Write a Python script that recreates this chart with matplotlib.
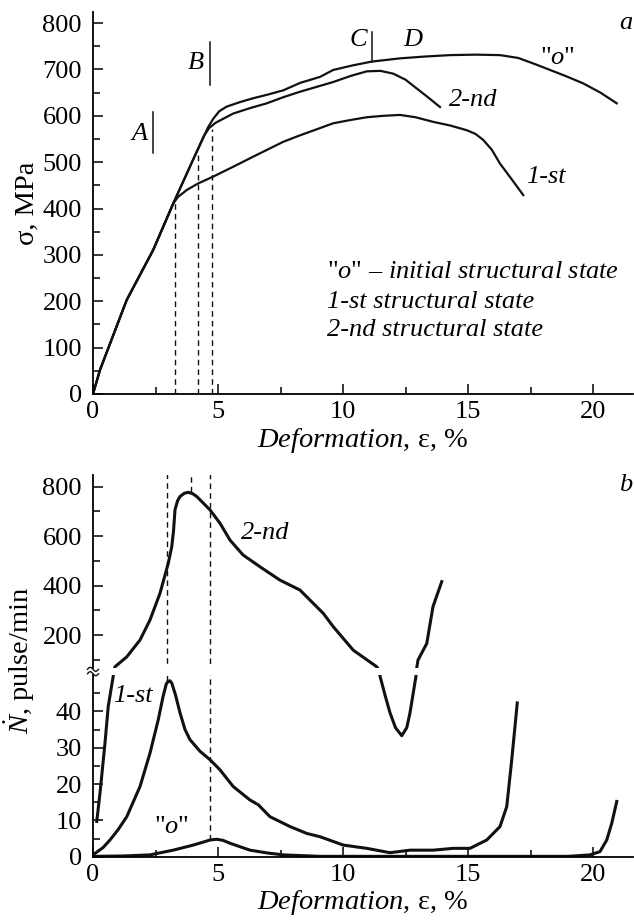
import numpy as np
import matplotlib
matplotlib.use('Agg')
import matplotlib.pyplot as plt
from matplotlib.lines import Line2D

plt.rcParams['font.family'] = ['Liberation Serif', 'DejaVu Serif']
plt.rcParams['mathtext.fontset'] = 'custom'
plt.rcParams['mathtext.rm'] = 'Liberation Serif'
plt.rcParams['mathtext.it'] = 'Liberation Serif:italic'
plt.rcParams['font.size'] = 19

# ---- panel a : stress-strain ----
eps_o = [0, 0.28, 1.35, 2.41, 3.21, 4.0, 4.6, 4.8, 5.05, 5.35, 5.9, 6.41, 7.0, 7.61, 8.28, 9.08,
         9.61, 10.4, 11.15, 12.28, 13.3, 14.28, 15.3, 16.28, 17.0, 17.61, 18.28, 18.9, 19.61,
         20.3, 20.95]
sig_o = [0, 52, 203, 311, 411, 505, 575, 593, 610, 620, 630, 638, 646, 655, 671, 684,
         699, 709, 717, 724, 728, 731, 732, 731, 725, 713, 699, 686, 670,
         650, 627]
eps_1 = [0, 0.28, 1.35, 2.41, 3.21, 3.4, 3.75, 4.2, 4.81, 5.6, 6.41, 7.61, 8.28, 9.0, 9.61,
         10.3, 10.95, 11.6, 12.28, 12.9, 13.61, 14.3, 14.95, 15.3, 15.61, 15.95, 16.28,
         16.75, 17.21]
sig_1 = [0, 52, 203, 311, 411, 425, 440, 454, 469, 490, 512, 544, 558, 572, 584,
         591, 597, 600, 602, 597, 587, 579, 569, 561, 548, 527, 497,
         463, 429]
eps_2 = [0, 0.28, 1.35, 2.41, 3.21, 4.0, 4.45, 4.65, 4.9, 5.61, 6.3, 6.95, 7.6, 8.28, 9.61,
         10.3, 10.95, 11.5, 12.01, 12.5, 12.95, 13.4, 13.88]
sig_2 = [0, 52, 203, 311, 411, 505, 558, 574, 585, 605, 617, 627, 640, 652, 673,
         686, 696, 697, 691, 678, 659, 640, 619]
dash_a_x = [3.28, 4.21, 4.77]
dash_a_top = [411, 522, 572]

# ---- panel b : acoustic emission rate ----
eN_o = [0.08, 1.2, 2.28, 3.21, 4.01, 4.4, 4.68, 4.95, 5.2, 5.48, 6.28, 7.0, 7.61, 9.08, 12.0,
        16.0, 19.0, 19.88, 20.28, 20.55, 20.75, 20.95]
N_o = [0.1, 0.2, 0.5, 1.8, 3.2, 4.0, 4.6, 4.8, 4.5, 3.7, 1.8, 1.0, 0.5, 0.1, 0.1,
       0.1, 0.1, 0.5, 1.4, 4.6, 9.2, 15.2]
eN_1 = [0.08, 0.4, 0.68, 1.0, 1.35, 1.88, 2.28, 2.61, 2.8, 2.93, 3.01, 3.08, 3.15, 3.3, 3.48,
        3.68, 3.88, 4.28, 4.68, 5.08, 5.61, 6.28, 6.61, 7.08, 7.88, 8.55, 9.08, 10.01,
        10.95, 11.88, 12.68, 13.61, 14.41, 15.08, 15.75, 16.28, 16.55, 16.75, 16.88, 16.97]
N_1 = [0.9, 2.5, 4.6, 7.4, 11, 19.3, 28.5, 37.7, 44, 47.5, 48.3, 48.4, 47.8, 44.5, 39.6,
       35, 32.2, 29, 26.7, 23.9, 19.3, 15.6, 14.3, 11, 8.3, 6.4, 5.5, 3.2,
       2.3, 1.1, 1.8, 1.8, 2.3, 2.3, 4.6, 8.3, 13.8, 26.7, 35.9, 42.3]
eN_2 = [0.15, 0.28, 0.48, 0.61, 0.81, 0.88, 1.35, 1.88, 2.28, 2.68, 3.01, 3.15, 3.22, 3.28,
        3.38, 3.48, 3.65, 3.81, 3.98, 4.15, 4.68, 5.08, 5.48, 6.0, 6.68, 7.48, 8.28, 9.21,
        9.61, 10.41, 11.35, 11.48, 11.7, 11.88, 12.1, 12.35, 12.55, 12.68, 12.92, 13.0,
        13.35, 13.6, 13.95]
N_2 = [9.7, 17.5, 31.3, 41.4, 49.7, 72, 112, 180, 261, 369, 490, 557, 620, 706,
       742, 760, 773, 777, 772, 760, 706, 652, 584, 524, 476, 422, 382, 288,
       234, 139, 72, 49.7, 44, 39.6, 35.5, 33.3, 35.5, 39.6, 49.7, 99,
       166, 315, 416]
dash_b_x = [2.97, 3.92, 4.68]
dash_b_low = [48.3, 777, 4.6]

W, H = 634, 923
fig = plt.figure(figsize=(W / 100, H / 100), dpi=100)

def box(l, t, r, b):
    return [l / W, 1 - b / H, (r - l) / W, (b - t) / H]

lw = 1.6
lab = 20.5

def style(ax):
    ax.spines['top'].set_visible(False)
    ax.spines['right'].set_visible(False)
    ax.spines['left'].set_linewidth(1.3)
    ax.spines['bottom'].set_linewidth(1.3)
    ax.tick_params(direction='in', which='both', width=1.1)
    ax.tick_params(which='major', length=7)
    ax.tick_params(axis='y', which='major', pad=8)
    ax.tick_params(axis='x', which='major', pad=5)
    ax.tick_params(which='minor', length=5)

# panel a
ax = fig.add_axes(box(93, 12, 633, 394))
style(ax)
ax.plot(eps_o, sig_o, color='#111', lw=lw)
ax.plot(eps_1, sig_1, color='#111', lw=lw)
ax.plot(eps_2, sig_2, color='#111', lw=lw)
for x, top in zip(dash_a_x, dash_a_top):
    ax.plot([x, x], [0, top], color='#111', lw=1.0, ls=(0, (4, 3)))
ax.set_xlim(0, 21.6)
ax.set_ylim(0, 824)
ax.set_xticks([0, 5, 10, 15, 20])
ax.set_xticks([2.5, 7.5, 12.5, 17.5], minor=True)
ax.set_yticks(range(0, 801, 100))
ax.set_yticks(range(50, 801, 100), minor=True)
ax.set_xlabel(r'$\mathit{Deformation}$, ε, %', labelpad=2, fontsize=lab)
ax.set_ylabel('σ, MPa', labelpad=2, fontsize=lab)
# marks A, B, C
ax.plot([2.4, 2.4], [520, 608], color='#111', lw=1.1)
ax.text(2.2, 561, 'A', style='italic', ha='right', va='center')
ax.plot([4.67, 4.67], [666, 760], color='#111', lw=1.1)
ax.text(4.45, 713, 'B', style='italic', ha='right', va='center')
ax.plot([11.17, 11.17], [717, 781], color='#111', lw=1.1)
ax.text(10.95, 763, 'C', style='italic', ha='right', va='center')
ax.text(12.8, 763, 'D', style='italic', ha='center', va='center')
ax.text(18.6, 724, '"$\\mathit{o}$"', ha='center', va='center')
ax.text(15.2, 634, '2-nd', style='italic', ha='center', va='center')
ax.text(18.1, 469, '1-st', style='italic', ha='center', va='center')
ax.text(21.3, 800, 'a', style='italic', ha='center', va='center')
ax.text(9.35, 264, '"$\\mathit{o}$" – $\\mathit{initial\\ structural\\ state}$', ha='left', va='center')
ax.text(9.35, 199, '1-st structural state', style='italic', ha='left', va='center')
ax.text(9.35, 138, '2-nd structural state', style='italic', ha='left', va='center')

# panel b: lower and upper parts of the broken axis
axl = fig.add_axes(box(93, 675, 633, 856.7))
style(axl)
axu = fig.add_axes(box(93, 475, 633, 668))
style(axu)
axu.spines['bottom'].set_visible(False)
axu.tick_params(axis='x', which='both', bottom=False, labelbottom=False)

blw = 2.2
for a in (axl, axu):
    a.plot(eN_o, N_o, color='#111', lw=blw)
    a.plot(eN_1, N_1, color='#111', lw=blw)
    a.plot(eN_2, N_2, color='#111', lw=blw)
    for x, low in zip(dash_b_x, dash_b_low):
        a.plot([x, x], [low, 2000], color='#111', lw=1.0, ls=(0, (4, 3)))
    a.set_xlim(0, 21.6)

axl.set_ylim(0, 50)
axl.set_yticks(range(0, 41, 10))
axl.set_yticks(range(5, 50, 10), minor=True)
axl.set_xticks([0, 5, 10, 15, 20])
axl.set_xticks([2.5, 7.5, 12.5, 17.5], minor=True)
axl.set_xlabel(r'$\mathit{Deformation}$, ε, %', labelpad=2, fontsize=lab)

axu.set_ylim(67, 847)
axu.set_yticks(range(200, 801, 200))
axu.set_yticks(range(100, 801, 200), minor=True)

axu.text(6.88, 611, '2-nd', style='italic', ha='center', va='center')
axl.text(1.6, 44.1, '1-st', style='italic', ha='center', va='center')
axl.text(3.15, 8.3, '"$\\mathit{o}$"', ha='center', va='center')
axu.text(21.3, 807, 'b', style='italic', ha='center', va='center')

fig.text(20 / W, 1 - 660 / H, r'$\dot{\mathit{N}}$, pulse/min', rotation=90,
         ha='center', va='center', fontsize=lab)

# axis break squiggles
t = np.linspace(-1, 1, 30)
for dy in (-2.2, 2.2):
    xs = (93 + 5.5 * t) / W
    ys = 1 - (671.5 + dy + 2.0 * np.sin(np.pi * t)) / H
    fig.add_artist(Line2D(xs, ys, color='#111', lw=1.0))

fig.savefig('out.png', dpi=100)
